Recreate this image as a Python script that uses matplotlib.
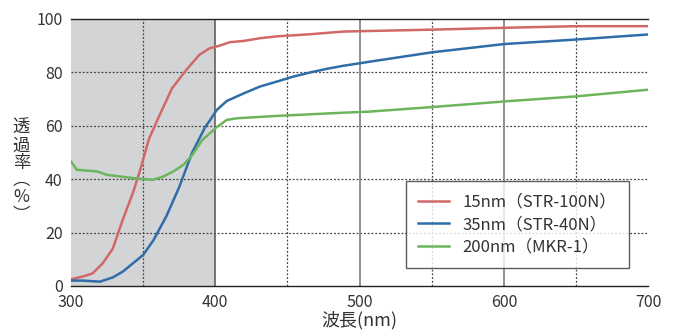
import matplotlib
matplotlib.use("Agg")
import matplotlib.pyplot as plt
import numpy as np

plt.rcParams['font.family'] = ['Noto Sans CJK JP', 'DejaVu Sans']

# wavelength (nm) / transmittance (%)
wl_red = [300, 308, 315, 322, 329, 336, 343, 348, 354, 361, 370, 380, 389, 396,
          403, 410, 420, 431, 443, 466, 489, 507, 550, 600, 650, 700]
t_red = [2.5, 3.5, 4.7, 8.5, 14, 25, 35, 43.5, 55, 63.5, 74, 81, 86.6, 89,
         90.0, 91.3, 91.8, 92.8, 93.5, 94.3, 95.3, 95.5, 96, 96.7, 97.3, 97.3]

wl_blue = [300, 308, 320, 329, 336, 343, 350, 357, 366, 375, 384, 393, 396,
           401, 408, 420, 431, 443, 454, 466, 477, 489, 500, 507, 550, 600, 650, 700]
t_blue = [2, 2, 1.6, 3.2, 5.4, 8.5, 11.6, 17, 26, 37, 50, 59.5, 61.8,
          65.9, 69.3, 72.2, 74.7, 76.6, 78.4, 80.0, 81.3, 82.5, 83.4, 84, 87.5, 90.6, 92.3, 94.2]

wl_green = [300, 304, 311, 318, 325, 334, 343, 350, 357, 364, 371, 378, 384,
            391, 398, 401, 408, 415, 443, 466, 489, 507, 550, 600, 650, 700]
t_green = [46.6, 43.5, 43.2, 42.9, 41.6, 41, 40.4, 40, 39.8, 41, 42.9, 45.4, 49,
           54.7, 58, 59.5, 62.2, 62.8, 63.7, 64.3, 64.9, 65.3, 67, 69.1, 71, 73.5]

labels = ['15nm（STR-100N）', '35nm（STR-40N）', '200nm（MKR-1）']
colors = ['#d06868', '#2f6da8', '#6cb55c']

fig = plt.figure(figsize=(6.73, 3.36), dpi=100)
ax = fig.add_axes([0.1055, 0.149, 0.8575, 0.7945])

ax.axvspan(300, 400, color='#d3d4d6', zorder=0, lw=0)

# grid
for y in [20, 40, 60, 80]:
    ax.axhline(y, color='#444444', ls=(0, (1.5, 1.5)), lw=0.9, zorder=1)
for x in [350, 450, 550, 650]:
    ax.axvline(x, color='#444444', ls=(0, (1.5, 1.5)), lw=0.9, zorder=1)
ax.axvline(400, color='#555555', lw=1.1, zorder=1)
for x in [500, 600]:
    ax.axvline(x, color='#888888', lw=1.3, zorder=1)

for wl, t, c, lab in zip([wl_red, wl_blue, wl_green], [t_red, t_blue, t_green], colors, labels):
    ax.plot(wl, t, color=c, lw=1.8, label=lab, zorder=3)

ax.set_xlim(300, 700)
ax.set_ylim(0, 100)
ax.set_xticks([300, 400, 500, 600, 700])
ax.set_yticks([0, 20, 40, 60, 80, 100])
ax.tick_params(length=0, labelsize=11.5, labelcolor='#333333', pad=6)
for s in ['left', 'right']:
    ax.spines[s].set_visible(False)
for s in ['top', 'bottom']:
    ax.spines[s].set_color('#222222')
    ax.spines[s].set_linewidth(1.0)

ax.set_xlabel('波長(nm)', fontsize=13, color='#333333', labelpad=0)
fig.text(0.032, 0.49, '透\n過\n率\n︵\n%\n︶', fontsize=12.5, color='#333333',
         ha='center', va='center', linespacing=0.95)

leg = ax.legend(loc='lower left', bbox_to_anchor=(0.580, 0.067), fontsize=12,
                frameon=True, fancybox=False, handlelength=1.85, handletextpad=0.8,
                borderpad=0.75, labelspacing=0.33, borderaxespad=0)
leg.get_frame().set_edgecolor('#333333')
leg.get_frame().set_linewidth(1.0)
for t in leg.get_texts():
    t.set_color('#333333')

fig.savefig('out.png', dpi=100)
